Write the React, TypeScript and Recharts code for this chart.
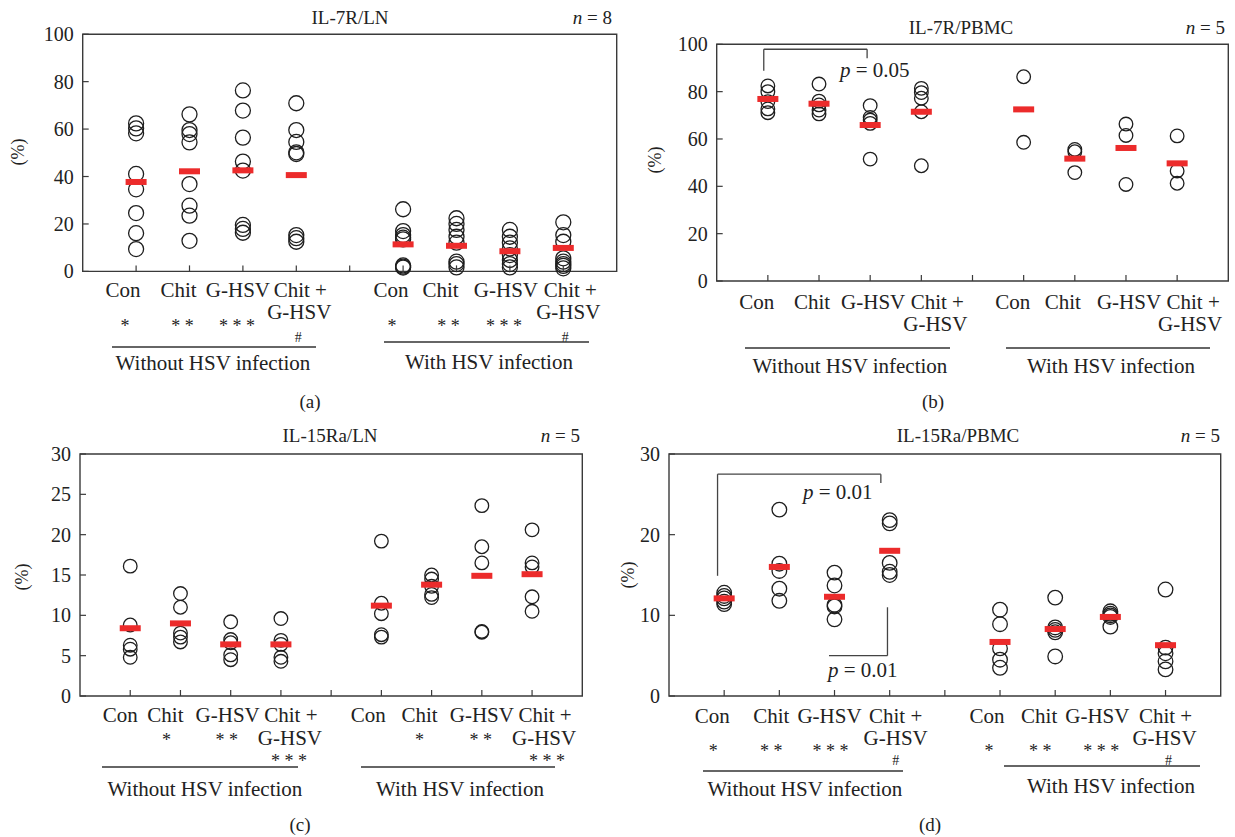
import React from 'react';
import { ScatterChart, Scatter, XAxis, YAxis, ReferenceArea, ReferenceLine } from 'recharts';

const FONT = 'Liberation Serif, Tinos, Times New Roman, DejaVu Serif, serif';
const W = 1235;
const H = 837;
const AXIS = '#3a3a3a';
const INK = '#1e1e1e';
const RED = '#ec2b2b';

// ---------- categories / labels ----------
const CATEGORIES = ['Con', 'Chit', 'G-HSV', 'Chit +'];
const CATEGORY_LINE2 = ['', '', '', 'G-HSV'];
const GROUPS = ['Without HSV infection', 'With HSV infection'];
const GROUP_X = [[1, 2, 3, 4], [6, 7, 8, 9]];
const X_TICKS = [1, 2, 3, 4, 5, 6, 7, 8, 9];

// ---------- panel (a) IL-7R/LN ----------
const A_NO_HSV = [
  [62.4, 60.3, 58.2, 41.1, 34.6, 24.6, 16.1, 9.4],
  [66.2, 59.6, 57.9, 54.4, 36.8, 27.7, 23.5, 12.9],
  [76.3, 67.8, 56.4, 46.3, 42.5, 19.6, 17.9, 16.3],
  [70.9, 59.6, 54.6, 50.2, 49.5, 15.3, 14.0, 12.5],
];
const A_HSV = [
  [26.2, 17.0, 15.3, 14.2, 13.5, 2.5, 2.0, 1.6],
  [22.4, 20.0, 17.5, 14.6, 12.1, 4.1, 3.1, 1.7],
  [17.5, 14.6, 12.1, 9.7, 6.9, 4.8, 3.1, 1.7],
  [20.7, 15.3, 12.5, 5.5, 4.1, 3.1, 2.3, 1.3],
];
const A_MEAN_NO_HSV = [37.7, 42.2, 42.6, 40.6];
const A_MEAN_HSV = [11.4, 10.8, 8.5, 9.9];
const A_STARS = ['*', '**', '***', '', '*', '**', '***', ''];
const A_HASH = ['', '', '', '#', '', '', '', '#'];

// ---------- panel (b) IL-7R/PBMC ----------
const B_NO_HSV = [
  [82.4, 80.0, 75.8, 72.7, 71.1],
  [83.2, 76.0, 74.4, 72.2, 70.6],
  [74.1, 69.1, 68.0, 66.6, 51.5],
  [81.4, 79.6, 77.2, 71.5, 48.7],
];
const B_HSV = [
  [86.3, 58.6],
  [55.6, 54.6, 45.8],
  [66.3, 61.5, 40.8],
  [61.3, 46.5, 41.3],
];
const B_MEAN_NO_HSV = [76.9, 74.9, 65.9, 71.5];
const B_MEAN_HSV = [72.5, 51.7, 56.2, 49.7];

// ---------- panel (c) IL-15Ra/LN ----------
const C_NO_HSV = [
  [16.1, 8.8, 6.3, 5.8, 4.8],
  [12.7, 11.0, 7.8, 7.3, 6.7],
  [9.2, 7.0, 6.6, 5.1, 4.5],
  [9.6, 6.9, 6.4, 4.8, 4.3],
];
const C_HSV = [
  [19.2, 11.5, 10.2, 7.6, 7.3],
  [15.0, 14.5, 13.6, 12.6, 12.2],
  [23.6, 18.5, 16.5, 8.0, 7.9],
  [20.6, 16.5, 16.0, 12.3, 10.5],
];
const C_MEAN_NO_HSV = [8.4, 9.0, 6.4, 6.4];
const C_MEAN_HSV = [11.2, 13.8, 14.9, 15.1];
const C_STARS = ['', '*', '**', '', '', '*', '**', ''];
const C_ROW3 = ['', '', '', '***', '', '', '', '***'];

// ---------- panel (d) IL-15Ra/PBMC ----------
const D_NO_HSV = [
  [12.8, 12.4, 12.1, 11.7, 11.4],
  [23.1, 16.4, 15.5, 13.3, 11.8],
  [15.3, 13.7, 11.3, 11.1, 9.5],
  [21.8, 21.4, 16.5, 15.4, 15.0],
];
const D_HSV = [
  [10.7, 8.9, 5.9, 4.5, 3.5],
  [12.2, 8.5, 8.2, 7.9, 4.9],
  [10.5, 10.2, 10.0, 9.8, 8.6],
  [13.2, 6.0, 5.3, 4.3, 3.3],
];
const D_MEAN_NO_HSV = [12.1, 16.0, 12.3, 18.0];
const D_MEAN_HSV = [6.7, 8.3, 9.8, 6.3];
const D_STARS = ['*', '**', '***', '', '*', '**', '***', ''];
const D_HASH = ['', '', '', '#', '', '', '', '#'];

// significance brackets (data coordinates)
const B_BRACKET = [
  [{ x: 0.92, y: 97.9 }, { x: 2.94, y: 97.9 }],
  [{ x: 0.92, y: 97.9 }, { x: 0.92, y: 88.8 }],
  [{ x: 2.94, y: 97.9 }, { x: 2.94, y: 94.1 }],
];
const D_BRACKET = [
  [{ x: 0.88, y: 27.5 }, { x: 3.84, y: 27.5 }],
  [{ x: 0.88, y: 27.5 }, { x: 0.88, y: 14.9 }],
  [{ x: 3.84, y: 27.5 }, { x: 3.84, y: 26.4 }],
  [{ x: 3.96, y: 11.0 }, { x: 3.96, y: 5.0 }],
  [{ x: 2.9, y: 5.0 }, { x: 3.96, y: 5.0 }],
];

// ---------- helpers ----------
const both = (arr: string[]) => [...arr, ...arr];
const spaced = (arr: string[]) => arr.map((s) => s.split('').join(' '));

function buildPoints(groups: number[][][]) {
  const out: { x: number; y: number }[] = [];
  groups.forEach((g, gi) =>
    g.forEach((vals, ci) => vals.forEach((v) => out.push({ x: GROUP_X[gi][ci], y: v })))
  );
  return out;
}
function buildMeans(means: number[][]) {
  const out: { x: number; y: number }[] = [];
  means.forEach((m, gi) => m.forEach((v, ci) => out.push({ x: GROUP_X[gi][ci], y: v })));
  return out;
}

type Row = { texts: string[]; dy: number; dx: number[]; size: number };

const LBL = 21;
const STAR = 18;

const PANELS = [
  {
    id: 'a',
    plot: { left: 82.7, top: 34.2, right: 616.7, bottom: 271.4 },
    yMax: 100,
    yTicks: [0, 20, 40, 60, 80, 100],
    r: 7.5,
    points: buildPoints([A_NO_HSV, A_HSV]),
    means: buildMeans([A_MEAN_NO_HSV, A_MEAN_HSV]),
    brackets: [] as any[],
    rows: [
      { texts: both(CATEGORIES), dy: 26, dx: [-13, -11, -5, 4, -12, -16, -4, 7], size: LBL },
      { texts: both(CATEGORY_LINE2), dy: 48, dx: [0, 0, 0, 3, 0, 0, 0, 5], size: LBL },
      { texts: spaced(A_STARS), dy: 61, dx: [-11, -7, -6, 0, -11, -8, -6, 0], size: STAR },
      { texts: A_HASH, dy: 71, dx: [0, 0, 0, 2, 0, 0, 0, 2], size: 14 },
    ] as Row[],
  },
  {
    id: 'b',
    plot: { left: 716.7, top: 44.3, right: 1228.3, bottom: 281 },
    yMax: 100,
    yTicks: [0, 20, 40, 60, 80, 100],
    r: 6.8,
    points: buildPoints([B_NO_HSV, B_HSV]),
    means: buildMeans([B_MEAN_NO_HSV, B_MEAN_HSV]),
    brackets: B_BRACKET,
    rows: [
      { texts: both(CATEGORIES), dy: 27.5, dx: [-11, -7, 3, 16, -11, -12, 3, 16], size: LBL },
      { texts: both(CATEGORY_LINE2), dy: 49.5, dx: [0, 0, 0, 14, 0, 0, 0, 13], size: LBL },
    ] as Row[],
  },
  {
    id: 'c',
    plot: { left: 80, top: 454, right: 582.3, bottom: 696 },
    yMax: 30,
    yTicks: [0, 5, 10, 15, 20, 25, 30],
    r: 6.8,
    points: buildPoints([C_NO_HSV, C_HSV]),
    means: buildMeans([C_MEAN_NO_HSV, C_MEAN_HSV]),
    brackets: [] as any[],
    rows: [
      { texts: both(CATEGORIES), dy: 26, dx: [-10, -15, -3, 10, -13, -12, 0, 13], size: LBL },
      { texts: both(CATEGORY_LINE2), dy: 48.5, dx: [0, 0, 0, 9, 0, 0, 0, 12], size: LBL },
      { texts: spaced(C_STARS), dy: 50, dx: [0, -14, -4, 0, 0, -12, -1, 0], size: STAR },
      { texts: spaced(C_ROW3), dy: 71, dx: [0, 0, 0, 8, 0, 0, 0, 15], size: STAR },
    ] as Row[],
  },
  {
    id: 'd',
    plot: { left: 669, top: 454, right: 1220.7, bottom: 696 },
    yMax: 30,
    yTicks: [0, 10, 20, 30],
    r: 7.3,
    points: buildPoints([D_NO_HSV, D_HSV]),
    means: buildMeans([D_MEAN_NO_HSV, D_MEAN_HSV]),
    brackets: D_BRACKET,
    rows: [
      { texts: both(CATEGORIES), dy: 26.5, dx: [-12, -8, -5, 6, -13, -16, -13, 0], size: LBL },
      { texts: both(CATEGORY_LINE2), dy: 48.5, dx: [0, 0, 0, 6, 0, 0, 0, -1], size: LBL },
      { texts: spaced(D_STARS), dy: 61, dx: [-11, -8, -4, 0, -11, -15, -9, 0], size: STAR },
      { texts: D_HASH, dy: 69, dx: [0, 0, 0, 6, 0, 0, 0, 3], size: 14 },
    ] as Row[],
  },
];

// ---------- overlay annotations (text & group lines) ----------
const TITLES = [
  { t: 'IL-7R/LN', x: 350, y: 24, n: '8', nx: 612 },
  { t: 'IL-7R/PBMC', x: 961, y: 34, n: '5', nx: 1225 },
  { t: 'IL-15Ra/LN', x: 330, y: 442, n: '5', nx: 580 },
  { t: 'IL-15Ra/PBMC', x: 958, y: 442, n: '5', nx: 1220 },
];
const PCT = [
  { x: 18, y: 152 },
  { x: 655, y: 160 },
  { x: 22, y: 577 },
  { x: 628, y: 575 },
];
const GROUP_LINES = [
  { x1: 112, x2: 316, y: 347, lx: 213, ly: 370, g: 0 },
  { x1: 384, x2: 589, y: 342, lx: 489, ly: 369, g: 1 },
  { x1: 745, x2: 950, y: 348, lx: 850, ly: 373, g: 0 },
  { x1: 1006, x2: 1210, y: 348, lx: 1111, ly: 373, g: 1 },
  { x1: 102, x2: 298, y: 767, lx: 205, ly: 796, g: 0 },
  { x1: 361, x2: 555, y: 767, lx: 460, ly: 796, g: 1 },
  { x1: 703, x2: 903, y: 771, lx: 805, ly: 796, g: 0 },
  { x1: 1004, x2: 1200, y: 766, lx: 1111, ly: 793, g: 1 },
];
const LETTERS = [
  { t: '(a)', x: 310, y: 408 },
  { t: '(b)', x: 933, y: 408 },
  { t: '(c)', x: 300, y: 831 },
  { t: '(d)', x: 930, y: 831 },
];
const P_TEXTS = [
  { v: '0.05', x: 840, y: 77 },
  { v: '0.01', x: 803, y: 499 },
  { v: '0.01', x: 828, y: 677 },
];

const TXT = { fontFamily: FONT, fill: '#222' } as const;

const makeXTick = (rows: Row[]) => (props: any) => {
  const { x, y, payload } = props;
  const v = payload.value;
  const k = v < 5 ? v - 1 : v > 5 ? v - 2 : -1;
  return (
    <g>
      <line x1={x} x2={x} y1={y} y2={y - 6} stroke={AXIS} strokeWidth={1.2} />
      {k >= 0 &&
        rows.map((row, ri) =>
          row.texts[k] ? (
            <text
              key={ri}
              x={x + row.dx[k]}
              y={y + row.dy}
              textAnchor="middle"
              fontSize={row.size}
              style={TXT}
            >
              {row.texts[k]}
            </text>
          ) : null
        )}
    </g>
  );
};

const Y_MARGIN = 9;
const YTick = (props: any) => {
  const { x, y, payload } = props;
  const ax = x + Y_MARGIN;
  return (
    <g>
      <line x1={ax} x2={ax + 6} y1={y} y2={y} stroke={AXIS} strokeWidth={1.2} />
      <text x={x} y={y} dy="0.35em" textAnchor="end" fontSize={20} style={TXT}>
        {payload.value}
      </text>
    </g>
  );
};

function Panel({ cfg }: { cfg: (typeof PANELS)[number] }) {
  const yAxisW = 60;
  const xAxisH = 20;
  const margin = {
    top: cfg.plot.top,
    left: cfg.plot.left - yAxisW,
    right: W - cfg.plot.right,
    bottom: H - cfg.plot.bottom - xAxisH,
  };
  const r = cfg.r;
  return (
    <div style={{ position: 'absolute', left: 0, top: 0, pointerEvents: 'none' }}>
      <ScatterChart width={W} height={H} margin={margin}>
        <XAxis
          type="number"
          dataKey="x"
          domain={[0, 10]}
          ticks={X_TICKS}
          interval={0}
          height={xAxisH}
          tickSize={0}
          tickMargin={0}
          axisLine={false}
          tick={makeXTick(cfg.rows)}
        />
        <YAxis
          type="number"
          dataKey="y"
          domain={[0, cfg.yMax]}
          ticks={cfg.yTicks}
          interval={0}
          width={yAxisW}
          tickSize={0}
          tickMargin={Y_MARGIN}
          axisLine={false}
          tick={YTick}
        />
        <ReferenceArea
          x1={0}
          x2={10}
          y1={0}
          y2={cfg.yMax}
          fill="none"
          fillOpacity={0}
          stroke={AXIS}
          strokeWidth={1.4}
          ifOverflow="visible"
        />
        {cfg.brackets.map((seg: any, i: number) => (
          <ReferenceLine key={i} segment={seg} stroke="#444" strokeWidth={1.3} ifOverflow="visible" />
        ))}
        <Scatter
          data={cfg.points}
          isAnimationActive={false}
          shape={(p: any) => (
            <circle cx={p.cx} cy={p.cy} r={r} fill="none" stroke={INK} strokeWidth={1.3} />
          )}
        />
        <Scatter
          data={cfg.means}
          isAnimationActive={false}
          shape={(p: any) => <rect x={p.cx - 10.5} y={p.cy - 3} width={21} height={6} fill={RED} />}
        />
      </ScatterChart>
    </div>
  );
}

export default function App() {
  return (
    <div
      style={{
        position: 'absolute',
        left: 0,
        top: 0,
        width: W,
        height: H,
        background: '#fff',
        overflow: 'hidden',
        fontFamily: FONT,
      }}
    >
      {PANELS.map((p) => (
        <Panel key={p.id} cfg={p} />
      ))}
      <svg
        width={W}
        height={H}
        style={{ position: 'absolute', left: 0, top: 0, pointerEvents: 'none', fontFamily: FONT }}
        fill="#222"
      >
        {TITLES.map((t, i) => (
          <g key={i}>
            <text x={t.x} y={t.y} textAnchor="middle" fontSize={19} style={TXT}>
              {t.t}
            </text>
            <text x={t.nx} y={t.y} textAnchor="end" fontSize={19} style={TXT}>
              <tspan fontStyle="italic">n</tspan> = {t.n}
            </text>
          </g>
        ))}
        {PCT.map((p, i) => (
          <text
            key={i}
            x={p.x}
            y={p.y}
            textAnchor="middle"
            dy="0.35em"
            fontSize={18}
            style={TXT}
            transform={`rotate(-90 ${p.x} ${p.y})`}
          >
            (%)
          </text>
        ))}
        {GROUP_LINES.map((g, i) => (
          <g key={i}>
            <line x1={g.x1} x2={g.x2} y1={g.y} y2={g.y} stroke="#333" strokeWidth={1.3} />
            <text x={g.lx} y={g.ly} textAnchor="middle" fontSize={LBL} style={TXT}>
              {GROUPS[g.g]}
            </text>
          </g>
        ))}
        {LETTERS.map((l, i) => (
          <text key={i} x={l.x} y={l.y} textAnchor="middle" fontSize={19} style={TXT}>
            {l.t}
          </text>
        ))}
        {P_TEXTS.map((p, i) => (
          <text key={i} x={p.x} y={p.y} fontSize={LBL} style={TXT}>
            <tspan fontStyle="italic">p</tspan> = {p.v}
          </text>
        ))}
      </svg>
    </div>
  );
}
